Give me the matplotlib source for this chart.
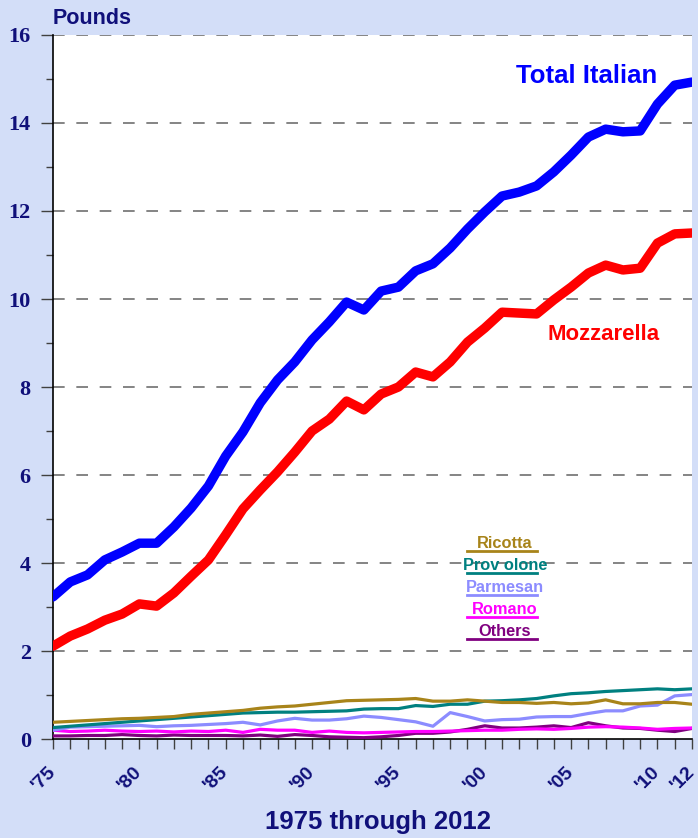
import numpy as np
import matplotlib.pyplot as plt
from matplotlib.ticker import MultipleLocator

years = np.arange(1975, 2013)

total_italian = [3.23, 3.57, 3.73, 4.07, 4.25, 4.45, 4.45, 4.82, 5.25, 5.75,
                 6.43, 6.98, 7.64, 8.16, 8.57, 9.07, 9.48, 9.93, 9.75, 10.18,
                 10.27, 10.64, 10.80, 11.16, 11.59, 11.98, 12.34, 12.43, 12.57, 12.89,
                 13.27, 13.68, 13.86, 13.80, 13.82, 14.43, 14.86, 14.93]
mozzarella = [2.11, 2.34, 2.50, 2.70, 2.84, 3.07, 3.02, 3.32, 3.70, 4.07,
              4.64, 5.23, 5.66, 6.07, 6.52, 7.00, 7.27, 7.68, 7.48, 7.84,
              8.00, 8.34, 8.23, 8.57, 9.02, 9.34, 9.70, 9.68, 9.66, 9.98,
              10.27, 10.59, 10.77, 10.66, 10.70, 11.27, 11.48, 11.50]
ricotta = [0.38, 0.40, 0.42, 0.44, 0.46, 0.47, 0.49, 0.51, 0.56, 0.59,
           0.62, 0.65, 0.70, 0.73, 0.75, 0.79, 0.83, 0.87, 0.88, 0.89,
           0.90, 0.92, 0.86, 0.86, 0.89, 0.86, 0.83, 0.83, 0.81, 0.83,
           0.80, 0.82, 0.89, 0.80, 0.80, 0.83, 0.83, 0.79]
provolone = [0.26, 0.29, 0.32, 0.35, 0.38, 0.41, 0.44, 0.47, 0.50, 0.53,
             0.56, 0.59, 0.60, 0.61, 0.61, 0.62, 0.63, 0.64, 0.68, 0.69,
             0.69, 0.76, 0.74, 0.79, 0.79, 0.86, 0.87, 0.89, 0.92, 0.98,
             1.03, 1.05, 1.08, 1.10, 1.12, 1.14, 1.12, 1.14]
parmesan = [0.20, 0.27, 0.28, 0.29, 0.30, 0.31, 0.28, 0.30, 0.31, 0.33,
            0.35, 0.38, 0.32, 0.41, 0.47, 0.43, 0.43, 0.46, 0.52, 0.49,
            0.44, 0.39, 0.29, 0.60, 0.51, 0.41, 0.44, 0.45, 0.50, 0.51,
            0.51, 0.58, 0.64, 0.64, 0.75, 0.77, 0.98, 1.01]
romano = [0.20, 0.17, 0.18, 0.20, 0.18, 0.17, 0.18, 0.16, 0.18, 0.17,
          0.20, 0.15, 0.22, 0.20, 0.20, 0.15, 0.18, 0.15, 0.14, 0.15,
          0.16, 0.17, 0.17, 0.18, 0.19, 0.20, 0.20, 0.22, 0.23, 0.22,
          0.24, 0.27, 0.28, 0.27, 0.25, 0.22, 0.24, 0.25]
others = [0.07, 0.07, 0.08, 0.08, 0.10, 0.08, 0.07, 0.09, 0.08, 0.08,
          0.08, 0.07, 0.09, 0.06, 0.10, 0.08, 0.05, 0.04, 0.03, 0.05,
          0.08, 0.13, 0.13, 0.16, 0.22, 0.30, 0.25, 0.25, 0.27, 0.30,
          0.26, 0.37, 0.30, 0.25, 0.24, 0.20, 0.17, 0.24]

small = [("Ricotta", ricotta, "#A8841A"),
         ("Prov olone", provolone, "#008080"),
         ("Parmesan", parmesan, "#8C8CFF"),
         ("Romano", romano, "#FF00FF"),
         ("Others", others, "#800080")]

xtick_years = [1975, 1980, 1985, 1990, 1995, 2000, 2005, 2010, 2012]
xtick_labels = ["'75", "'80", "'85", "'90", "'95", "'00", "'05", "'10", "'12"]

navy = "#10107A"

fig = plt.figure(figsize=(6.98, 8.38), dpi=100)
fig.patch.set_facecolor("#D3DEF8")
ax = fig.add_axes([53/698, 1-739/838, 639/698, 704/838])
ax.set_facecolor("white")

for yv in range(2, 17, 2):
    ax.axhline(yv, color="#707070", lw=1.2, ls=(0, (7, 7)), zorder=1)

# small series first (under the big ones)
for name, vals, col in small[::-1]:
    ax.plot(years, vals, color=col, lw=2.3, zorder=3)

ax.plot(years, mozzarella, color="#FF0000", lw=6.8, solid_capstyle="round",
        solid_joinstyle="round", zorder=4)
ax.plot(years, total_italian, color="#0000FF", lw=6.8, solid_capstyle="round",
        solid_joinstyle="round", zorder=4)

ax.set_xlim(1975, 2012)
ax.set_ylim(0, 16)

ax.yaxis.set_major_locator(MultipleLocator(2))
ax.yaxis.set_minor_locator(MultipleLocator(1))
ax.set_xticks(xtick_years)
ax.set_xticklabels(xtick_labels)
ax.xaxis.set_minor_locator(MultipleLocator(1))

ax.tick_params(axis="y", which="major", direction="out", length=9, width=1,
               color="#404040", pad=7)
ax.tick_params(axis="y", which="minor", direction="out", length=5, width=1,
               color="#404040")
ax.tick_params(axis="x", which="both", direction="out", length=7, width=1,
               color="#404040", pad=15)
for lab in ax.get_yticklabels():
    lab.set_fontfamily("Liberation Serif")
    lab.set_fontweight("bold")
    lab.set_fontsize(16)
    lab.set_color(navy)
for lab in ax.get_xticklabels():
    lab.set_fontfamily("Liberation Sans")
    lab.set_fontweight("bold")
    lab.set_fontsize(14)
    lab.set_color(navy)
    lab.set_rotation(45)
    lab.set_ha("right")
    lab.set_va("center")
    lab.set_rotation_mode("anchor")

for s in ["top", "right"]:
    ax.spines[s].set_visible(False)
ax.spines["left"].set_color("black")
ax.spines["bottom"].set_color("black")
ax.spines["left"].set_linewidth(1.2)
ax.spines["bottom"].set_linewidth(1.2)

fig.text(53/698, 1-18/838, "Pounds", fontsize=15.5, fontweight="bold",
         color=navy, family="Liberation Sans", va="center", ha="left")
fig.text(378/698, 1-822/838, "1975 through 2012", fontsize=18.5, fontweight="bold",
         color=navy, family="Liberation Sans", va="center", ha="center")

ax.text(2005.9, 15.07, "Total Italian", fontsize=18.5, fontweight="bold",
        color="#0000FF", family="Liberation Sans", ha="center", va="center")
ax.text(2006.9, 9.2, "Mozzarella", fontsize=16, fontweight="bold",
        color="#FF0000", family="Liberation Sans", ha="center", va="center")

# label key
for i, (name, vals, col) in enumerate(small):
    yc = 1 - (543 + 22*i)/838
    fig.text(505/698, yc, name, fontsize=11.8, fontweight="bold", color=col,
             family="Liberation Sans", ha="center", va="center")
    yl = 1 - (551 + 22*i)/838
    fig.add_artist(plt.Line2D([467/698, 537/698], [yl, yl], color=col, lw=2,
                              transform=fig.transFigure))

fig.savefig("out.png", dpi=100, facecolor=fig.get_facecolor())
